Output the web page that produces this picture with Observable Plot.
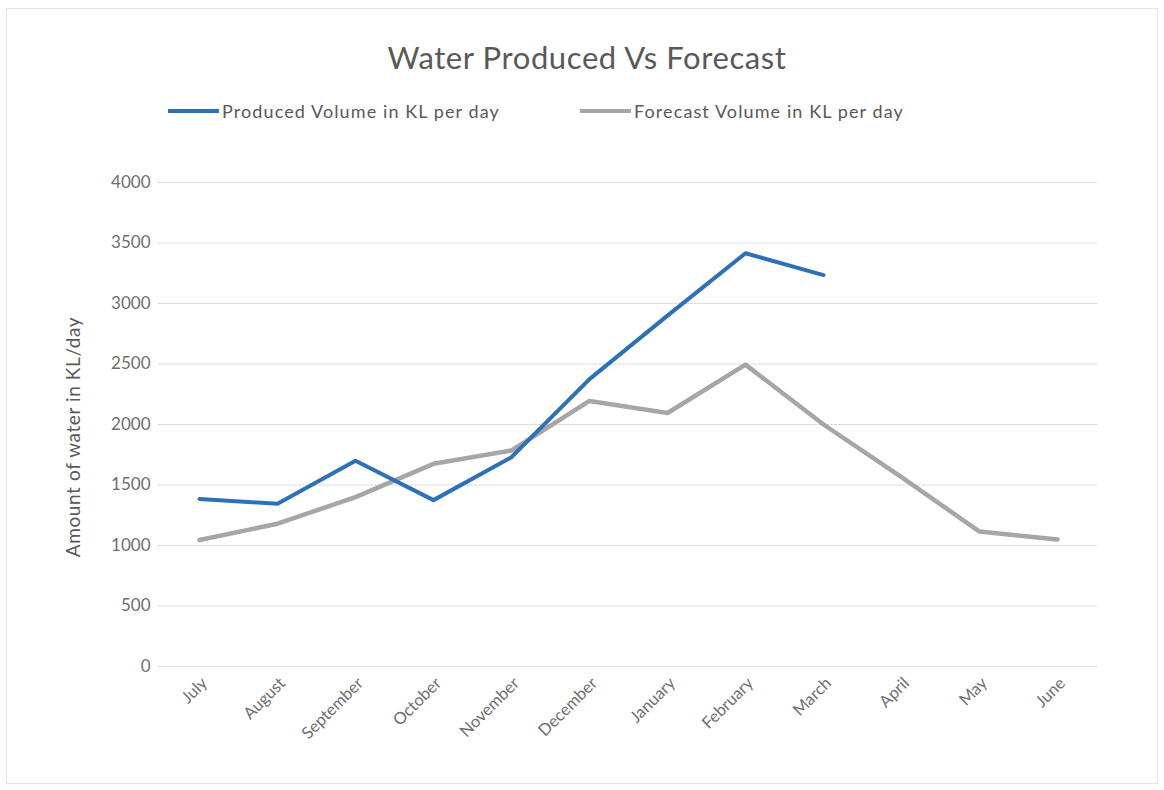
<!DOCTYPE html>
<html><head><meta charset="utf-8">
<script src="https://cdn.jsdelivr.net/npm/d3@7"></script>
<script src="https://cdn.jsdelivr.net/npm/@observablehq/plot@0.6"></script>
<style>
body{margin:0;background:#fff;font-family:Lato,"Open Sans",sans-serif;}
#wrap{position:relative;width:1164px;height:790px;overflow:hidden;background:#fff;}
#frame{position:absolute;left:6px;top:8px;width:1152px;height:776px;border:1px solid #e6e6e6;box-sizing:border-box;}
#title{position:absolute;top:38px;left:0;width:1174px;text-align:center;font-size:31px;color:#595959;letter-spacing:0.6px;}
#legend{position:absolute;top:100px;left:168px;font-size:18px;color:#595959;letter-spacing:1.1px;}
.item{position:absolute;top:0;white-space:nowrap;display:flex;align-items:center;}
.sw{display:inline-block;width:51px;height:4px;margin-right:3px;}
#ylab{position:absolute;left:72px;top:437px;transform:translate(-50%,-50%) rotate(-90deg);white-space:nowrap;font-size:19px;color:#595959;letter-spacing:0.6px;}
#chart{position:absolute;left:0;top:150px;}
</style></head>
<body><div id="wrap"><div id="frame"></div>
<div id="title"></div>
<div id="legend"></div>
<div id="ylab"></div>
<div id="chart"></div></div>
<script>
const title = "Water Produced Vs Forecast";
const yLabel = "Amount of water in KL/day";
const seriesNames = ["Produced Volume in KL per day", "Forecast Volume in KL per day"];
const seriesColors = ["#2e70b8", "#a6a6a6"];
const months = ["July","August","September","October","November","December","January","February","March","April","May","June"];
const produced = [1385, 1345, 1700, 1375, 1730, 2375, 2900, 3415, 3235];
const forecast = [1045, 1180, 1400, 1675, 1785, 2195, 2095, 2495, 2000, 1565, 1115, 1050];
const yTicks = [0, 500, 1000, 1500, 2000, 2500, 3000, 3500, 4000];

document.getElementById("title").textContent = title;
document.getElementById("ylab").textContent = yLabel;
const leg = document.getElementById("legend");
const legX = [0, 412];
seriesNames.forEach((n, i) => {
  const d = document.createElement("div");
  d.className = "item";
  d.style.left = legX[i] + "px";
  d.innerHTML = `<span class="sw" style="background:${seriesColors[i]}"></span><span>${n}</span>`;
  leg.appendChild(d);
});

const prodRows = produced.map((v, i) => ({month: months[i], value: v}));
const foreRows = forecast.map((v, i) => ({month: months[i], value: v}));

const chart = Plot.plot({
  width: 1164,
  height: 640,
  marginLeft: 158,
  marginRight: 67,
  marginTop: 32,
  marginBottom: 124,
  style: {fontFamily: "Lato, 'Open Sans', sans-serif", background: "transparent", color: "#6e6e6e"},
  x: {type: "point", domain: months, padding: 0.5},
  y: {domain: [0, 4000]},
  marks: [
    Plot.ruleY(yTicks, {stroke: "#d4d4d4", strokeWidth: 1, strokeDasharray: "3,1"}),
    Plot.axisY(yTicks, {tickSize: 0, tickPadding: 8, fontSize: 17, label: null, fill: "#6e6e6e", tickFormat: d3.format("d")}),
    Plot.axisX({tickSize: 0, tickPadding: 14, tickRotate: -45, fontSize: 16.5, label: null, fill: "#6e6e6e", dx: 5}),
    Plot.line(foreRows, {x: "month", y: "value", stroke: seriesColors[1], strokeWidth: 4.5, strokeLinejoin: "round", strokeLinecap: "round"}),
    Plot.line(prodRows, {x: "month", y: "value", stroke: seriesColors[0], strokeWidth: 4, strokeLinejoin: "round", strokeLinecap: "round"})
  ]
});
document.getElementById("chart").appendChild(chart);
</script></body></html>
